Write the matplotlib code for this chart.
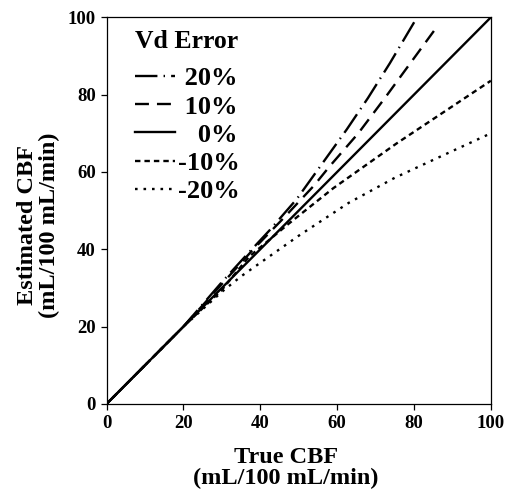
import matplotlib
matplotlib.use("Agg")
import matplotlib.pyplot as plt

plt.rcParams['font.family'] = ['Liberation Serif', 'DejaVu Serif']
plt.rcParams['font.weight'] = 'bold'

# values
x_p20 = [0, 20, 30, 36.5, 42.5, 49.5, 56, 62.5, 68, 73.7, 80.8]
y_p20 = [0, 20, 31.5, 38.6, 45, 53, 62, 71, 79.1, 88.1, 100]
x_p10 = [0, 20, 30, 38, 46, 54, 58, 65.5, 72.4, 86.3]
y_p10 = [0, 20, 31, 39.8, 48, 56.5, 61.4, 70, 79.1, 98]
x_0 = [0, 100]
y_0 = [0, 100]
x_m10 = [0, 20, 30, 37, 47, 59, 75.5, 100]
y_m10 = [0, 20, 29.5, 38, 46.3, 55.8, 67.4, 83.6]
x_m20 = [0, 20, 30, 35, 50, 63, 75, 88, 100]
y_m20 = [0, 20, 29, 33, 43.5, 52, 58.5, 64.5, 70]
labels = [' 20%', ' 10%', '   0%', '-10%', '-20%']
ticks = [0, 20, 40, 60, 80, 100]

fig = plt.figure(figsize=(5.05, 4.95), dpi=100)
ax = fig.add_axes([0.211, 0.184, 0.761, 0.781])

lw = 1.7
ax.plot(x_p20, y_p20, color='black', linewidth=lw, dashes=(9.5, 2.6, 0.6, 2.6), label=labels[0])
ax.plot(x_p10, y_p10, color='black', linewidth=lw, dashes=(5.9, 3.4), label=labels[1])
ax.plot(x_0, y_0, color='black', linewidth=lw, label=labels[2])
ax.plot(x_m10, y_m10, color='black', linewidth=lw, dashes=(2.3, 1.7), label=labels[3])
ax.plot(x_m20, y_m20, color='black', linewidth=lw, dashes=(1.1, 2.5), label=labels[4])

ax.set_xlim(0, 100)
ax.set_ylim(0, 100)
ax.set_xticks(ticks)
ax.set_yticks(ticks)
ax.tick_params(direction='out', length=4.3, width=0.9, pad=3.5, labelsize=13.5)
for s in ax.spines.values():
    s.set_linewidth(0.9)

ax.set_xlabel("True CBF\n(mL/100 mL/min)", fontsize=17.5, fontweight='bold', linespacing=1.0)
ax.xaxis.set_label_coords(0.466, -0.112)
ax.set_ylabel("Estimated CBF\n(mL/100 mL/min)", fontsize=17.5, fontweight='bold', linespacing=1.08)
ax.yaxis.set_label_coords(-0.121, 0.463)

ax.text(0.074, 0.967, "Vd Error", transform=ax.transAxes, fontsize=18.5,
        fontweight='bold', ha='left', va='top')
ax.legend(loc='upper left', frameon=False, fontsize=19,
          handlelength=1.5, handletextpad=0.12, labelspacing=0.18,
          borderpad=0, borderaxespad=0, bbox_to_anchor=(0.074, 0.872))

fig.savefig("out.png", dpi=100)
